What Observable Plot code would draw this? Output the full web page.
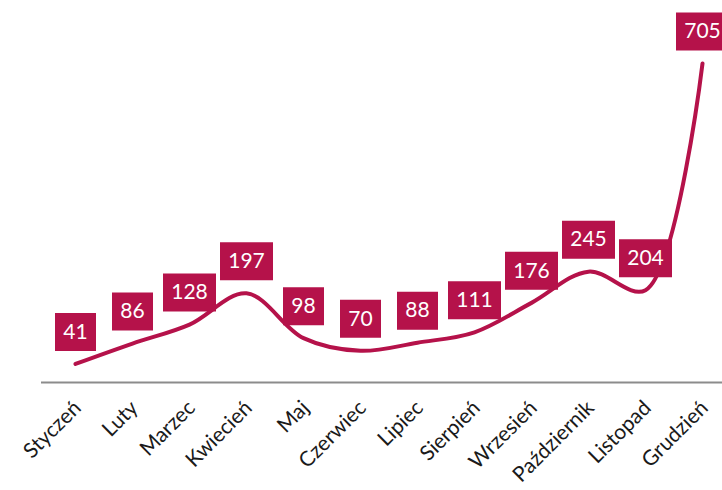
<!DOCTYPE html>
<html>
<head>
<meta charset="utf-8">
<script src="https://cdn.jsdelivr.net/npm/d3@7"></script>
<script src="https://cdn.jsdelivr.net/npm/@observablehq/plot@0.6"></script>
<style>
  html, body { margin: 0; padding: 0; background: #fff; overflow: hidden; width: 722px; height: 490px; }
</style>
</head>
<body>
<div id="chart"></div>
<script>
const months = ["Styczeń","Luty","Marzec","Kwiecień","Maj","Czerwiec","Lipiec","Sierpień","Wrzesień","Październik","Listopad","Grudzień"];
const values = [41, 86, 128, 197, 98, 70, 88, 111, 176, 245, 204, 705];

const data = months.map((m, i) => ({month: m, value: values[i]}));
const color = "#b5124a";

function boxSymbol(w, h) {
  return {draw(ctx) { ctx.rect(-w / 2, -h / 2, w, h); }};
}

const plot = Plot.plot({
  width: 736,
  height: 490,
  marginLeft: 41,
  marginRight: 0,
  marginTop: 63,
  marginBottom: 108,
  style: {fontFamily: "Lato, 'Open Sans', sans-serif", maxWidth: "none", overflow: "visible", background: "#fff"},
  x: {type: "point", domain: months, padding: 0.5, label: null},
  y: {domain: [0, 705], axis: null},
  marks: [
    Plot.ruleY([0], {stroke: "#8c8c8c", strokeWidth: 2}),
    Plot.axisX({tickRotate: -45, tickSize: 0, tickPadding: 22, fontSize: 21, fill: "#1a1a1a", label: null, dx: 2}),
    Plot.line(data, {x: "month", y: "value", stroke: color, strokeWidth: 4, curve: "catmull-rom", strokeLinecap: "round"}),
    Plot.dot(data.filter(d => d.value < 100), {x: "month", y: "value", dy: -32, r: 5, symbol: boxSymbol(41, 38), fill: color, stroke: "none"}),
    Plot.dot(data.filter(d => d.value >= 100), {x: "month", y: "value", dy: -32, r: 5, symbol: boxSymbol(53, 38), fill: color, stroke: "none"}),
    Plot.text(data, {x: "month", y: "value", dy: -32, text: d => String(d.value), fill: "#fff", fontSize: 21})
  ]
});
document.getElementById("chart").appendChild(plot);
</script>
</body>
</html>
